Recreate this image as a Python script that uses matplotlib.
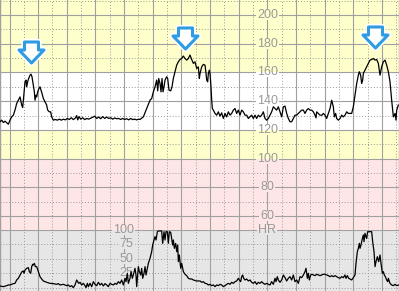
import numpy as np
import matplotlib
matplotlib.use('Agg')
import matplotlib.pyplot as plt
from matplotlib.ticker import MultipleLocator
from matplotlib.patches import Rectangle
from matplotlib.path import Path
from matplotlib.markers import MarkerStyle

# ---------------- data (time in minutes) ----------------
fhr_t = np.array([
    -0.332, -0.273, -0.215, -0.157, -0.099, -0.041, 0.017, 0.076, 0.134, 0.192,
    0.250, 0.308, 0.367, 0.425, 0.460, 0.483, 0.541, 0.576, 0.599, 0.634,
    0.669, 0.716, 0.750, 0.785, 0.832, 0.867, 0.890, 0.925, 0.948, 0.983,
    1.030, 1.065, 1.100, 1.134, 1.181, 1.239, 1.297, 1.332, 1.390, 1.437,
    1.472, 1.530,
    1.600, 1.670, 1.739, 1.809, 1.879, 1.949, 2.019, 2.089, 2.158, 2.228,
    2.298, 2.345, 2.379, 2.426, 2.484, 2.554, 2.624, 2.694, 2.763, 2.833,
    2.903, 2.973, 3.043, 3.112, 3.182, 3.252, 3.322, 3.392, 3.462, 3.531,
    3.601, 3.671, 3.741, 3.811, 3.880, 3.950, 4.020, 4.090, 4.160, 4.229,
    4.299, 4.369, 4.439, 4.509, 4.555,
    4.672, 4.730, 4.788, 4.904, 4.963, 5.021, 5.079, 5.137, 5.172, 5.207,
    5.253, 5.288, 5.323, 5.358, 5.393, 5.428, 5.486, 5.521, 5.567, 5.625,
    5.672, 5.718, 5.777, 5.835, 5.893, 5.951, 6.009, 6.068, 6.126, 6.184,
    6.242, 6.300, 6.359, 6.417, 6.475, 6.533, 6.591, 6.626,
    6.650, 6.708, 6.766, 6.824, 6.859, 6.882, 6.917, 6.940, 6.975, 6.998,
    7.033, 7.057, 7.080, 7.115,
    7.173, 7.231, 7.289, 7.347, 7.405, 7.464, 7.522, 7.580, 7.638, 7.696,
    7.754, 7.813, 7.871, 7.929, 7.987, 8.045, 8.103, 8.162, 8.220, 8.278,
    8.336, 8.394, 8.452, 8.511, 8.569, 8.627, 8.685, 8.743, 8.801, 8.860,
    8.918, 8.976, 9.034, 9.092, 9.150, 9.209, 9.267, 9.325, 9.383, 9.441,
    9.500, 9.558, 9.616, 9.674, 9.732, 9.790, 9.849, 9.907, 9.965, 10.023,
    10.081, 10.140, 10.198, 10.256, 10.314, 10.372, 10.430, 10.489, 10.547, 10.605,
    10.663, 10.698, 10.721, 10.779, 10.838, 10.907, 10.954, 11.012, 11.070, 11.128,
    11.187, 11.245, 11.303, 11.338, 11.385, 11.419, 11.478, 11.536, 11.594, 11.652,
    11.710, 11.769, 11.827, 11.885, 11.943, 12.001, 12.059, 12.118, 12.176, 12.211,
    12.257, 12.292, 12.327, 12.350, 12.408, 12.467, 12.525, 12.583, 12.641, 12.699,
    12.758, 12.816, 12.874, 12.932, 12.990, 13.048, 13.107, 13.165, 13.223, 13.281,
    13.339, 13.398, 13.456, 13.491, 13.514, 13.572])

fhr_bpm = np.array([
    125.7, 126.8, 125.2, 126.1, 125.0, 124.0, 126.8, 129.1, 130.3, 133.8,
    138.4, 140.7, 143.0, 137.3, 135.6, 140.7, 153.5, 154.7, 150.0, 153.5,
    155.8, 158.1, 158.8, 157.0, 151.2, 146.5, 140.7, 144.2, 143.0, 146.5,
    148.9, 150.0, 147.7, 145.4, 141.9, 139.6, 137.3, 133.8, 132.6, 132.6,
    129.1, 126.8,
    127.3, 126.8, 127.5, 126.8, 127.5, 127.0, 128.0, 127.3, 128.5, 127.2,
    128.3, 130.0, 127.0, 129.3, 127.5, 128.5, 127.2, 128.0, 127.5, 128.2,
    128.8, 129.6, 128.0, 129.0, 127.8, 129.3, 128.0, 129.0, 128.0, 128.5,
    127.5, 128.3, 127.8, 128.0, 127.3, 128.0, 127.3, 127.8, 127.0, 128.0,
    127.2, 127.5, 127.0, 127.5, 127.3,
    129.1, 131.9, 134.9, 140.7, 141.9, 146.5, 150.0, 154.7, 147.2, 155.8,
    152.3, 146.5, 155.8, 146.5, 150.0, 154.7, 157.0, 155.8, 147.7, 147.2,
    150.0, 155.8, 160.5, 165.1, 167.4, 169.0, 169.7, 171.4, 169.7, 168.6,
    169.7, 172.1, 169.0, 166.3, 167.4, 162.8, 163.9, 155.8,
    159.3, 163.9, 165.6, 165.1, 159.3, 154.7, 153.5, 159.3, 161.6, 159.3,
    150.0, 140.7, 134.9, 133.8,
    131.5, 130.3, 132.6, 129.6, 131.9, 128.0, 131.5, 129.1, 132.6, 130.3,
    131.5, 133.8, 134.9, 131.5, 133.8, 130.3, 133.8, 132.6, 130.3, 130.3,
    128.0, 129.1, 130.3, 128.0, 130.3, 128.0, 130.3, 129.1, 130.3, 132.6,
    128.0, 126.8, 128.0, 130.3, 132.6, 136.1, 134.9, 133.8, 136.1, 132.6,
    129.1, 136.1, 136.6, 131.5, 128.0, 125.7, 125.7, 128.0, 130.3, 130.3,
    131.5, 132.6, 133.8, 133.8, 131.5, 133.8, 134.9, 133.8, 133.8, 132.6,
    130.3, 128.4, 132.6, 131.5, 130.3, 130.3, 131.5, 130.3, 128.0, 131.5,
    134.9, 140.7, 136.1, 129.1, 131.5, 128.0, 126.8, 128.0, 130.3, 129.1,
    130.3, 132.6, 131.5, 131.5, 131.5, 136.1, 144.2, 152.3, 158.1, 160.5,
    158.1, 152.3, 154.7, 159.3, 161.6, 163.9, 166.3, 168.6, 169.0, 169.7,
    168.6, 169.0, 166.3, 158.1, 163.9, 167.4, 168.6, 165.1, 160.5, 153.5,
    140.7, 129.1, 131.5, 126.8, 133.8, 137.3])

ua_t = np.array([
    -0.332, -0.215, -0.099, -0.041, 0.017, 0.076, 0.134, 0.192, 0.250, 0.308,
    0.367, 0.401, 0.436, 0.483, 0.506, 0.541, 0.599, 0.657, 0.692, 0.739,
    0.774, 0.809, 0.832, 0.867, 0.902, 0.948, 1.006, 1.065, 1.123, 1.181,
    1.297, 1.414, 1.530, 1.646, 1.705, 1.763, 1.879, 1.995, 2.054, 2.112,
    2.170, 2.228, 2.286, 2.345, 2.379, 2.414, 2.461, 2.519, 2.577, 2.635,
    2.670, 2.717, 2.752, 2.810, 2.868, 2.926, 2.984, 3.043, 3.101, 3.159,
    3.217, 3.275, 3.333, 3.392, 3.450, 3.508, 3.566, 3.624, 3.682, 3.741,
    3.799, 3.857, 3.915, 3.973, 4.032, 4.066, 4.113, 4.148, 4.206, 4.241,
    4.287, 4.322, 4.380, 4.415, 4.439, 4.497, 4.532, 4.578, 4.613, 4.648,
    4.695, 4.730, 4.765, 4.811, 4.846, 4.904, 4.962, 4.997, 5.044, 5.079,
    5.114, 5.160, 5.195, 5.253, 5.311, 5.346, 5.393, 5.428, 5.463, 5.509,
    5.544, 5.579, 5.626, 5.660, 5.695, 5.719, 5.753, 5.800, 5.835, 5.870,
    5.893, 5.928, 5.975, 6.009, 6.068, 6.126, 6.184, 6.242, 6.300, 6.359,
    6.417, 6.533, 6.626,
    6.650, 6.708, 6.766, 6.824, 6.882, 6.940, 6.998, 7.057, 7.115, 7.173,
    7.231, 7.289, 7.347, 7.405, 7.464, 7.522, 7.580, 7.638, 7.696, 7.754,
    7.813, 7.871, 7.929, 7.987, 8.022, 8.068, 8.103, 8.138, 8.173, 8.220,
    8.278, 8.336, 8.394, 8.452, 8.511, 8.569, 8.627, 8.685, 8.743, 8.801,
    8.860, 8.918, 8.976, 9.034, 9.092, 9.150, 9.209, 9.267, 9.302, 9.348,
    9.383, 9.441, 9.500, 9.558, 9.616, 9.674, 9.732, 9.790, 9.849, 9.907,
    9.965, 10.023, 10.081, 10.140, 10.198, 10.256, 10.314, 10.349, 10.396, 10.430,
    10.465, 10.512, 10.547, 10.605, 10.663, 10.721, 10.779, 10.838, 10.896, 10.954,
    11.012, 11.070, 11.128, 11.187, 11.245, 11.303, 11.361, 11.419, 11.478, 11.536,
    11.594, 11.652, 11.710, 11.745, 11.792, 11.838, 11.885, 11.943, 12.001, 12.059,
    12.094, 12.141, 12.176, 12.211, 12.234, 12.269, 12.304, 12.350, 12.374, 12.408,
    12.443, 12.467, 12.502, 12.583, 12.641, 12.676, 12.723, 12.758, 12.793, 12.839,
    12.886, 12.932, 12.967, 13.014, 13.048, 13.083, 13.118, 13.165, 13.200, 13.223,
    13.281, 13.339, 13.398, 13.456, 13.514, 13.584])

ua_val = np.array([
    3.4, 2.3, 4.0, 5.2, 5.2, 6.3, 7.5, 8.0, 13.8, 16.7,
    22.4, 25.3, 28.2, 29.3, 25.3, 31.0, 33.9, 35.1, 28.2, 25.3,
    36.8, 40.8, 39.7, 42.5, 36.8, 36.8, 28.2, 19.5, 15.5, 12.1,
    9.8, 8.0, 7.5, 6.3, 7.5, 5.2, 6.3, 4.0, 5.2, 2.3,
    4.0, 0.6, 5.2, 13.8, 10.9, 8.0, 9.8, 5.2, 8.0, 4.0,
    0.6, 8.0, 2.3, 8.0, 2.3, 10.9, 6.3, 4.0, 9.8, 5.2,
    8.0, 3.4, 7.5, 5.2, 2.3, 8.0, 6.3, 5.2, 8.0, 6.3,
    10.9, 8.0, 13.8, 5.2, 16.7, 10.9, 25.3, 8.0, 16.7, 28.2,
    16.7, 22.4, 33.9, 22.4, 2.3, 36.8, 28.2, 22.4, 33.9, 16.7,
    25.3, 36.8, 22.4, 33.9, 42.5, 51.1, 62.6, 74.1, 82.8, 88.5,
    82.8, 97.1, 98.3, 98.3, 98.3, 77.0, 97.1, 82.8, 97.1, 97.1,
    77.0, 97.1, 96.0, 85.6, 74.1, 82.8, 68.4, 77.0, 62.6, 74.1,
    45.4, 56.9, 33.9, 42.5, 28.2, 23.6, 21.3, 16.7, 15.5, 15.5,
    13.8, 12.1, 12.1,
    12.1, 9.8, 10.9, 8.0, 7.5, 5.2, 6.3, 4.0, 5.2, 2.3,
    5.2, 4.0, 6.3, 5.2, 2.3, 4.0, 6.3, 8.0, 6.3, 9.8,
    8.0, 10.9, 12.1, 16.7, 13.8, 10.9, 19.5, 22.4, 16.7, 13.8,
    15.5, 12.1, 13.8, 9.8, 8.0, 10.9, 6.3, 9.8, 8.0, 10.9,
    8.0, 6.3, 8.0, 6.3, 5.2, 10.9, 6.3, 16.7, 10.9, 19.5,
    13.8, 9.8, 13.8, 22.4, 17.8, 12.1, 16.7, 19.5, 13.8, 22.4,
    10.9, 13.8, 8.0, 19.5, 17.8, 22.4, 28.2, 33.9, 16.7, 25.3,
    13.8, 22.4, 23.6, 22.4, 21.3, 23.6, 22.4, 21.3, 22.4, 23.6,
    23.6, 22.4, 21.3, 19.5, 21.3, 19.5, 21.3, 19.5, 17.8, 16.7,
    19.5, 17.8, 22.4, 16.7, 21.3, 16.7, 15.5, 13.8, 17.8, 22.4,
    42.5, 62.6, 68.4, 77.0, 68.4, 74.1, 82.8, 91.4, 79.9, 94.3,
    88.5, 85.6, 97.1, 97.1, 97.1, 79.9, 62.6, 36.8, 45.4, 54.0,
    45.4, 56.9, 42.5, 25.3, 28.2, 22.4, 19.5, 13.8, 10.9, 16.7,
    8.0, 5.2, 4.0, 6.3, 4.0, 5.2])

fhr_labels = [200, 180, 160, 140, 120, 100, 80, 60]
ua_labels = [100, 75, 50, 25]
accel_t = [0.75, 6.126, 12.757]      # acceleration markers (minutes)
accel_bpm = [174.3, 183.7, 185.0]

# ---------------- styling ----------------
YEL = '#ffffcc'
WHITE = '#ffffff'
PINK = '#ffe6e6'
GREY = '#e6e6e6'
SOLID = '#a0a0a0'
DOT = '#999999'
LABC = '#999999'
BLUE = '#2f9be0'

W, H = 399, 291
fig = plt.figure(figsize=(W / 100, H / 100), dpi=100)
top_frac = 230 / H
ax = fig.add_axes([0, 1 - top_frac, 1, top_frac])
ax2 = fig.add_axes([0, 0, 1, 1 - top_frac])

x_lim = (-0.332, 13.595)
for a in (ax, ax2):
    a.set_xlim(*x_lim)
    a.xaxis.set_major_locator(MultipleLocator(1))
    a.xaxis.set_minor_locator(MultipleLocator(0.5))
    a.tick_params(which='both', length=0, labelbottom=False, labelleft=False)
    a.set_axisbelow(True)
    for s in a.spines.values():
        s.set_visible(False)
    for s in ('left', 'right'):
        a.spines[s].set_visible(True)
        a.spines[s].set_color(SOLID)
        a.spines[s].set_linewidth(1.0)

ax.set_ylim(50.4, 210.4)
ax.yaxis.set_major_locator(MultipleLocator(20))
ax.yaxis.set_minor_locator(MultipleLocator(10))
ax.axhspan(160, 260, color=YEL, zorder=0.1, lw=0)
ax.axhspan(120, 160, color=WHITE, zorder=0.1, lw=0)
ax.axhspan(100, 120, color=YEL, zorder=0.1, lw=0)
ax.axhspan(0, 100, color=PINK, zorder=0.1, lw=0)
ax.grid(which='major', color=SOLID, lw=0.8, ls='-')
ax.grid(which='minor', color=DOT, lw=0.7, ls=(0, (1, 2)))

ax2.set_ylim(-5.2, 100)
ax2.set_facecolor(GREY)
ax2.yaxis.set_major_locator(MultipleLocator(25))
ax2.grid(axis='x', which='major', color=SOLID, lw=0.8, ls='-')
ax2.grid(axis='x', which='minor', color=DOT, lw=0.7, ls=(0, (1, 2)))
ax2.grid(axis='y', which='major', color=DOT, lw=0.7, ls=(0, (1, 2)))
ax2.axhline(100, color=SOLID, lw=0.8, zorder=0.6)

# ---------------- labels ----------------
narrow = ['Liberation Sans Narrow', 'Liberation Sans', 'DejaVu Sans']
regular = ['Liberation Sans', 'DejaVu Sans']

def band_color(v):
    if v > 160:
        return YEL
    if v > 120:
        return WHITE
    if v > 100:
        return YEL
    return PINK

items = []
for v in fhr_labels:
    t = ax.text(9, v, str(v), ha='center', va='center', fontsize=9,
                color=LABC, family=narrow, zorder=2.5)
    items.append((ax, t, v, band_color(v + 0.1), band_color(v - 0.1)))
t = ax2.text(9, 100, 'HR', ha='center', va='center', fontsize=9,
             color=LABC, family=narrow, zorder=2.5, clip_on=False)
items.append((ax2, t, 100, PINK, GREY))
for v in ua_labels:
    t = ax2.text(4.33, v, str(v), ha='right', va='center', fontsize=9,
                 color=LABC, family=regular, zorder=2.5, clip_on=False)
    items.append((ax2, t, v, PINK if v >= 100 else GREY, GREY))

fig.canvas.draw()
for a, t, v, up, lo in items:
    bb = t.get_window_extent()
    x0, x1 = bb.x0 - 1.0, bb.x1 + 1.0
    y0, y1 = bb.y0 + 1.0, bb.y1 - 1.0
    inv = a.transData.inverted()
    ymid = a.transData.transform((0, v))[1]
    for (ya, yb, c) in ((ymid, y1, up), (y0, ymid, lo)):
        (dx0, dy0) = inv.transform((x0, ya))
        (dx1, dy1) = inv.transform((x1, yb))
        a.add_patch(Rectangle((dx0, dy0), dx1 - dx0, dy1 - dy0, fc=c,
                              ec='none', lw=0, zorder=2.2, clip_on=False))

# ---------------- traces ----------------
ax.plot(fhr_t, fhr_bpm, color='black', lw=0.9, zorder=3)
ax2.plot(ua_t, ua_val, color='black', lw=0.9, zorder=3)

# ---------------- acceleration arrows ----------------
verts = [(0, -10.5), (12.5, 2.5), (7, 2.5), (7, 10.5), (-7, 10.5),
         (-7, 2.5), (-12.5, 2.5), (0, -10.5)]
codes = [Path.MOVETO] + [Path.LINETO] * 6 + [Path.CLOSEPOLY]
arrow = MarkerStyle(Path(verts, codes), joinstyle='round')
ms = 25 * 72 / 100
ax.plot(accel_t, accel_bpm, ls='none', marker=arrow, ms=ms, mfc='white',
        mec='white', mew=4.5, zorder=4, clip_on=False)
ax.plot(accel_t, accel_bpm, ls='none', marker=arrow, ms=ms, mfc='white',
        mec=BLUE, mew=2.2, zorder=5, clip_on=False)

fig.savefig('out.png', dpi=100)
